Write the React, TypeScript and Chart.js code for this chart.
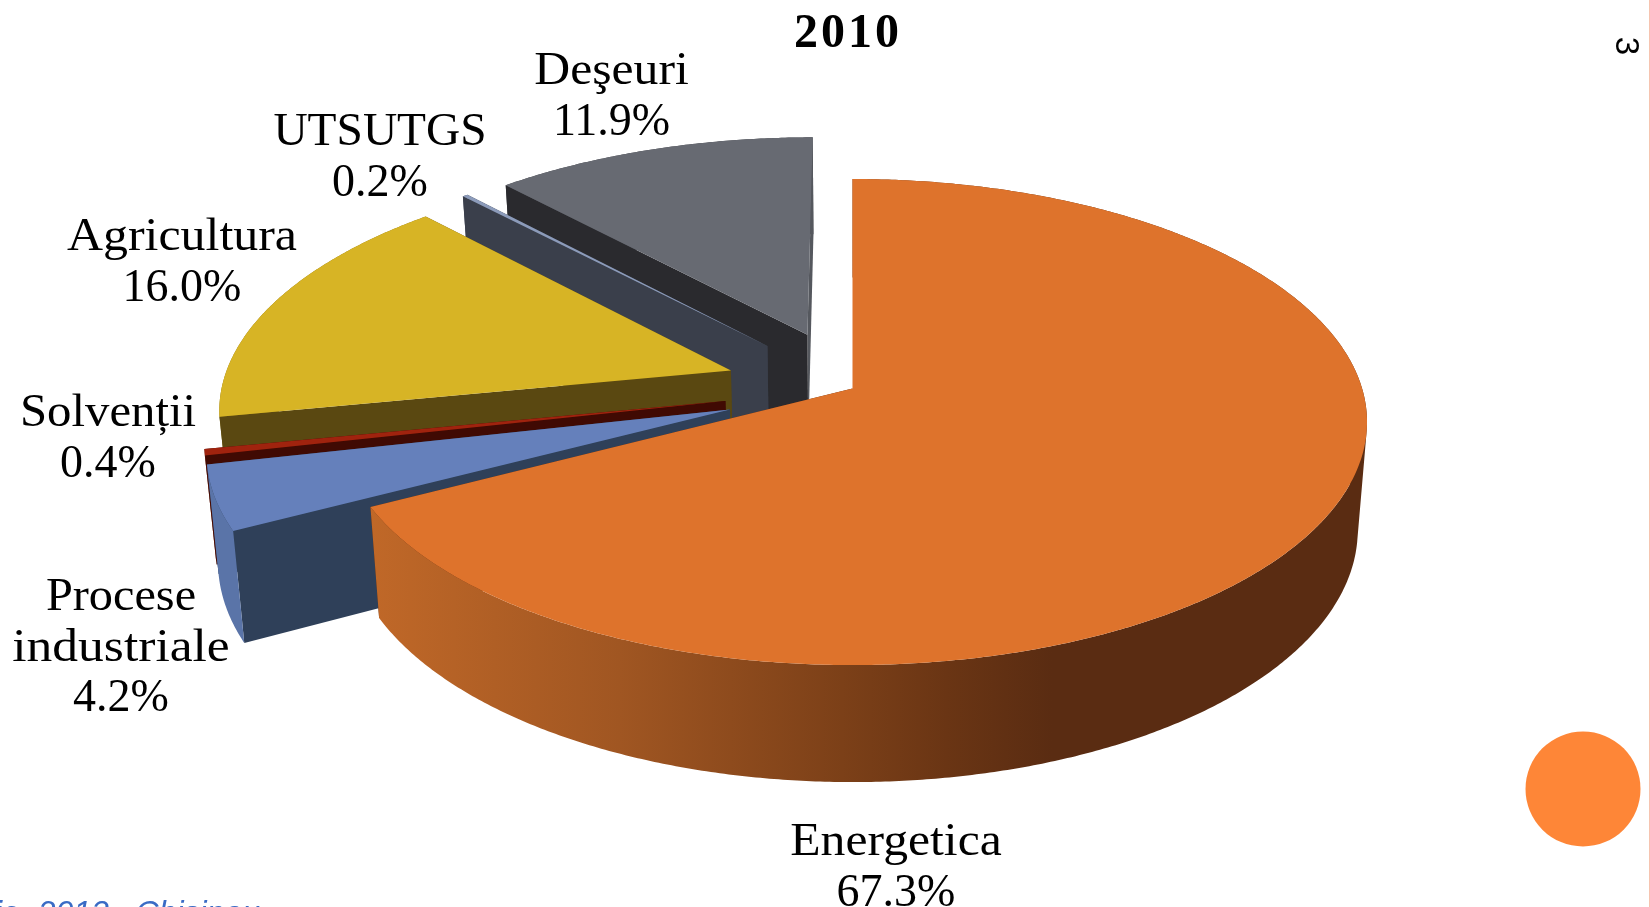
import React, { useEffect, useRef } from "react";
import { Chart, registerables } from "chart.js";

Chart.register(...registerables);

const categories = ["Energetica", "Procese industriale", "Solvenții", "Agricultura", "UTSUTGS", "Deşeuri"];
const labelLines = [["Energetica"], ["Procese", "industriale"], ["Solvenții"], ["Agricultura"], ["UTSUTGS"], ["Deşeuri"]];
const labelStretch = [[1.08], [1.05, 1.12], [1.06], [1.085], [1.03], [1.08]];
const shares = [67.3, 4.2, 0.4, 16.0, 0.2, 11.9];
const explodePercent = [0, 25.3, 25.3, 25.3, 25, 25];
const topColors = ["#DE732C", "#6580BB", "#A0230E", "#D7B425", "#8C9BBA", "#676A72"];
const radialColors = ["#5A2C12", "#2F4059", "#400A03", "#5A4811", "#3A3F4B", "#2A2A2E"];
const endRadialColors = ["#5A2C12", "#2F4059", "#400A03", "#5A4811", "#3A3F4B", "#55585E"];
const rimColors = ["#5A2C12", "#5A74A8", "#6A1608", "#8A7318", "#4A5064", "#45474D"];
const labelCenters = [[896, 855], [121, 610], [108, 426], [182, 250], [380, 145], [611.5, 84]];
const rimStops: [number, string][] = [[370, "#C06828"], [620, "#A05622"], [842, "#7C4018"], [947, "#6A3514"], [1052, "#5A2C12"]];

const SERIF = '"Liberation Serif", serif';
const LABEL_SIZE = 46;
const LINE_GAP = 50.5;

// Perspective of the pie plane
const CX = 852.5, CY = 388.5, A = 509.6, B = 238.4, K = 0.138;
const project = (u: number, v: number, low: boolean): [number, number] => {
  const w = 1 - K * v;
  let x = CX + (A * u) / w;
  let y = CY + (B * v) / w;
  if (low) {
    x = CX + (x - CX) * 0.982;
    y = y + 111 + (y - 507) * 0.038;
  }
  return [x, y];
};

type P = [number, number];

const fillPoly = (ctx: CanvasRenderingContext2D, pts: P[], fill: any) => {
  ctx.beginPath();
  pts.forEach((p, i) => (i ? ctx.lineTo(p[0], p[1]) : ctx.moveTo(p[0], p[1])));
  ctx.closePath();
  ctx.fillStyle = fill;
  ctx.fill();
};

// The rim as one path of like-wound quads, so overlaps never cancel out
const fillRim = (ctx: CanvasRenderingContext2D, top: P[], low: P[], fill: any) => {
  ctx.beginPath();
  for (let i = 0; i < top.length - 1; i++) {
    let q: P[] = [top[i], top[i + 1], low[i + 1], low[i]];
    let area = 0;
    q.forEach((p, j) => {
      const n = q[(j + 1) % 4];
      area += p[0] * n[1] - n[0] * p[1];
    });
    if (area < 0) q = q.slice().reverse();
    q.forEach((p, j) => (j ? ctx.lineTo(p[0], p[1]) : ctx.moveTo(p[0], p[1])));
    ctx.closePath();
  }
  ctx.fillStyle = fill;
  ctx.fill();
};

const pie3d = {
  id: "pie3d",
  beforeDraw(chart: any) {
    // letter-fit for the title, which Chart.js draws next
    chart.ctx.letterSpacing = "3px";
  },
  beforeDatasetsDraw(chart: any) {
    const ctx: CanvasRenderingContext2D = chart.ctx;
    (ctx as any).letterSpacing = "0px";
    const arcs = chart.getDatasetMeta(0).data;
    // painter's order: the last slices sit at the back
    for (let i = arcs.length - 1; i >= 0; i--) {
      const arc = arcs[i];
      const a0 = arc.startAngle, a1 = arc.endAngle;
      const mid = (a0 + a1) / 2;
      const d = arc.options.offset / 100;
      const ox = Math.cos(mid) * d, oy = Math.sin(mid) * d;
      const steps = Math.max(2, Math.ceil((a1 - a0) / 0.008));
      const topArc: P[] = [];
      const lowArc: P[] = [];
      for (let s = 0; s <= steps; s++) {
        const t = a0 + ((a1 - a0) * s) / steps;
        topArc.push(project(ox + Math.cos(t), oy + Math.sin(t), false));
        lowArc.push(project(ox + Math.cos(t), oy + Math.sin(t), true));
      }
      const apexTop = project(ox, oy, false);
      const apexLow = project(ox, oy, true);
      let rimFill: any = rimColors[i];
      if (i === 0) {
        const first = rimStops[0][0];
        const span = rimStops[rimStops.length - 1][0] - first;
        const g = ctx.createLinearGradient(first, 0, first + span, 0);
        rimStops.forEach(([x, c]) => g.addColorStop((x - first) / span, c));
        rimFill = g;
      }
      const meanY = (p: P[]) => p.reduce((s, q) => s + q[1], 0) / p.length;
      const faces = [
        { y: meanY([apexTop, topArc[0], lowArc[0], apexLow]), draw: () => fillPoly(ctx, [apexTop, topArc[0], lowArc[0], apexLow], radialColors[i]) },
        { y: meanY([apexTop, topArc[steps], lowArc[steps], apexLow]), draw: () => fillPoly(ctx, [apexTop, topArc[steps], lowArc[steps], apexLow], endRadialColors[i]) },
        { y: meanY([...topArc, ...lowArc]), draw: () => fillRim(ctx, topArc, lowArc, rimFill) },
      ];
      faces.sort((f, g) => f.y - g.y).forEach((f) => f.draw());
      fillPoly(ctx, [apexTop, ...topArc], arc.options.backgroundColor);
    }
    return false;
  },
  afterDraw(chart: any) {
    const ctx: CanvasRenderingContext2D = chart.ctx;
    ctx.save();
    ctx.fillStyle = "#000";
    ctx.textAlign = "center";
    ctx.textBaseline = "alphabetic";
    ctx.font = `${LABEL_SIZE}px ${SERIF}`;
    categories.forEach((_, i) => {
      const [lx, ly] = labelCenters[i];
      labelLines[i].forEach((t, j) => {
        ctx.save();
        ctx.translate(lx, ly + j * LINE_GAP);
        ctx.scale(labelStretch[i][j], 1);
        ctx.fillText(t, 0, 0);
        ctx.restore();
      });
      ctx.fillText(`${shares[i].toFixed(1)}%`, lx, ly + labelLines[i].length * LINE_GAP);
    });
    // slide furniture around the chart
    ctx.fillStyle = "#FE8637";
    ctx.beginPath();
    ctx.arc(1583, 789, 57.5, 0, Math.PI * 2);
    ctx.fill();
    ctx.fillStyle = "#F6C4B0";
    ctx.fillRect(1649, 0, 1, 907);
    ctx.fillStyle = "#000";
    ctx.font = '33px "Liberation Sans", sans-serif';
    ctx.translate(1625, 46);
    ctx.rotate(Math.PI / 2);
    ctx.textBaseline = "middle";
    ctx.fillText("3", 0, 0);
    ctx.setTransform(1, 0, 0, 1, 0, 0);
    ctx.textAlign = "left";
    ctx.textBaseline = "alphabetic";
    ctx.fillStyle = "#3A6BC5";
    ctx.font = 'italic 32px "Liberation Sans", sans-serif';
    ctx.fillText("ie, 2013,  Chisinau", -5, 923);
    ctx.restore();
  },
};

export default function App() {
  const ref = useRef<HTMLCanvasElement>(null);
  useEffect(() => {
    const chart = new Chart(ref.current!, {
      type: "pie",
      data: {
        labels: categories,
        datasets: [
          {
            data: shares,
            backgroundColor: topColors,
            offset: explodePercent,
            borderWidth: 0,
          },
        ],
      },
      options: {
        responsive: false,
        animation: false,
        devicePixelRatio: 1,
        layout: { padding: { left: 46 } },
        plugins: {
          legend: { display: false },
          tooltip: { enabled: false },
          title: {
            display: true,
            text: "2010",
            color: "#000",
            font: { family: SERIF, size: 48, weight: "bold" },
            padding: { top: 6, bottom: 0 },
          },
        },
      },
      plugins: [pie3d],
    } as any);
    return () => chart.destroy();
  }, []);
  return (
    <canvas
      ref={ref}
      width={1650}
      height={907}
      style={{ position: "fixed", left: 0, top: 0, display: "block", background: "#fff" }}
    />
  );
}
